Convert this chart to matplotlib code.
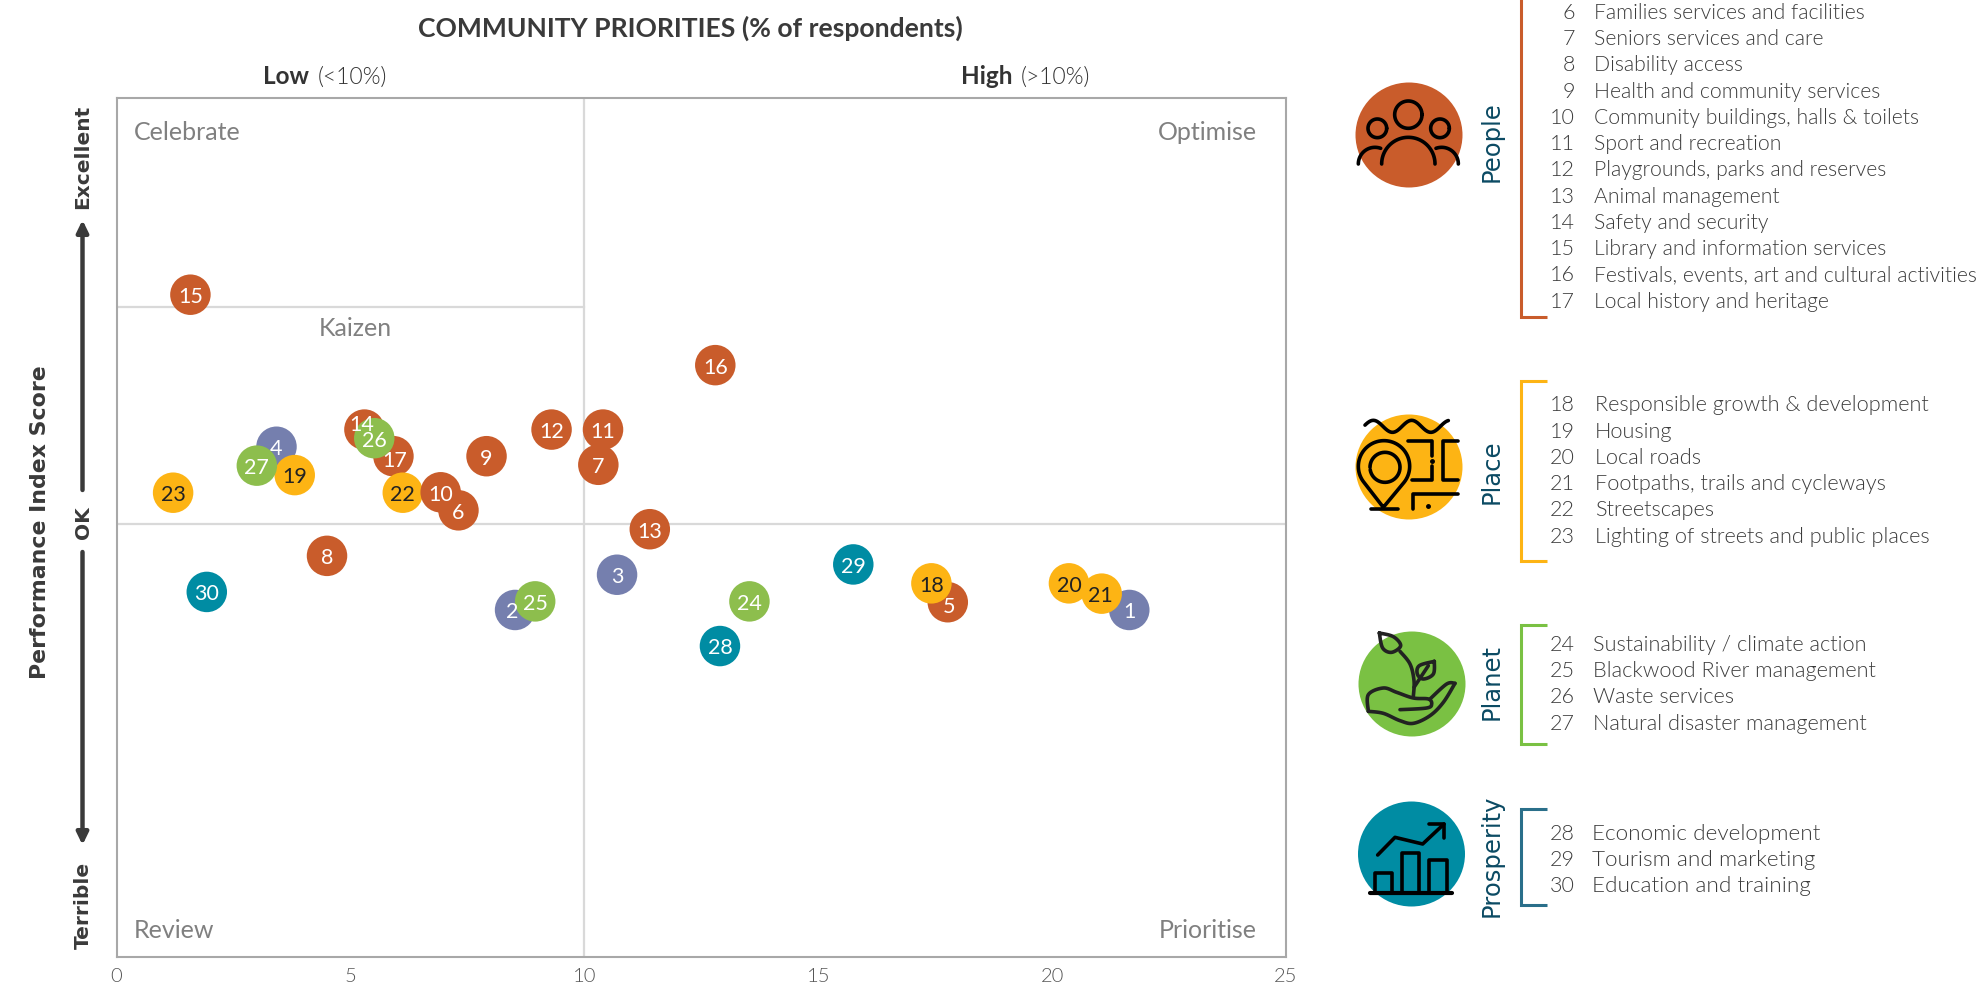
"""
plot.py

Community priorities vs performance index scatter, with the theme legend
and icons down the right hand side.
"""
import numpy as np
import matplotlib
matplotlib.use("Agg")
import matplotlib.pyplot as plt
from matplotlib.patches import Ellipse

W, H = 1979, 987
FONT = "Lato"
LIGHT = 300  # numeric, "light" resolves to the hairline cut of Lato

# measure number, priority (% of respondents), performance index (0-100 axis)
ids = [1, 2, 3, 4, 5, 6, 7, 8, 9, 10,
       11, 12, 13, 14, 15, 16, 17, 18, 19, 20,
       21, 22, 23, 24, 25, 26, 27, 28, 29, 30]
priority = [21.65, 8.52, 10.7, 3.42, 17.77, 7.31, 10.3, 4.5, 7.91, 6.93,
            10.4, 9.3, 11.4, 5.3, 1.58, 12.8, 5.92, 17.42, 3.81, 20.36,
            21.06, 6.12, 1.21, 13.53, 8.95, 5.51, 3.0, 12.9, 15.75, 1.93]
performance = [40.4, 40.4, 44.5, 59.4, 41.3, 52.0, 57.3, 46.7, 58.3, 54.1,
               61.4, 61.4, 49.8, 61.4, 77.1, 68.9, 58.3, 43.5, 56.1, 43.5,
               42.3, 54.05, 54.05, 41.4, 41.4, 60.4, 57.2, 36.2, 45.7, 42.5]
# drawn back to front, the overlaps in the cluster are not in number order
draw_order = [1, 2, 3, 4, 5, 8, 9, 11, 7, 12, 13, 15, 16, 14, 17, 18, 19, 20,
              21, 22, 23, 10, 6, 24, 25, 26, 27, 28, 29, 30]

x_ticks = [0, 5, 10, 15, 20, 25]
ok_line = 50.4
kaizen_line = 75.7
priority_split = 10

people_items = ["Families services and facilities", "Seniors services and care",
                "Disability access", "Health and community services",
                "Community buildings, halls & toilets", "Sport and recreation",
                "Playgrounds, parks and reserves", "Animal management",
                "Safety and security", "Library and information services",
                "Festivals, events, art and cultural activities",
                "Local history and heritage"]
place_items = ["Responsible growth & development", "Housing", "Local roads",
               "Footpaths, trails and cycleways", "Streetscapes",
               "Lighting of streets and public places"]
planet_items = ["Sustainability / climate action", "Blackwood River management",
                "Waste services", "Natural disaster management"]
prosperity_items = ["Economic development", "Tourism and marketing",
                    "Education and training"]

BLUE = "#757FAE"
PEOPLE = "#C95C2B"
PLACE = "#FDB414"
PLANET = "#8DBE4D"
PROSPERITY = "#008CA3"
NAVY = "#0B4A63"


def point_colour(n):
    if n <= 4:
        return BLUE
    if n <= 17:
        return PEOPLE
    if n <= 23:
        return PLACE
    if n <= 27:
        return PLANET
    return PROSPERITY


def smooth(points, steps=12):
    """Catmull-Rom curve through the given points, for the hand drawn icons."""
    p = np.array(points, dtype=float)
    p = np.vstack([p[0], p, p[-1]])
    out = []
    for i in range(1, len(p) - 2):
        for t in np.linspace(0, 1, steps, endpoint=False):
            out.append(0.5 * (2 * p[i] + (p[i + 1] - p[i - 1]) * t
                              + (2 * p[i - 1] - 5 * p[i] + 4 * p[i + 1] - p[i + 2]) * t ** 2
                              + (3 * p[i] - p[i - 1] - 3 * p[i + 1] + p[i + 2]) * t ** 3))
    out.append(p[-2])
    return np.array(out)


fig = plt.figure(figsize=(W / 100, H / 100), dpi=100, facecolor="white")

# main scatter
ax = fig.add_axes([116.5 / W, (H - 958) / H, (1286 - 116.5) / W, (958 - 99) / H])
ax.set_xlim(0, 25)
ax.set_ylim(0, 100)
ax.set_xticks(x_ticks)
ax.set_yticks([])
ax.tick_params(axis="x", length=0, pad=7.5, labelsize=14.5, labelcolor="#555555")
for lab in ax.get_xticklabels():
    lab.set_fontfamily(FONT)
    lab.set_fontweight(LIGHT)
for spine in ax.spines.values():
    spine.set_color("#a8a8a8")
    spine.set_linewidth(1.5)

ax.axvline(priority_split, color="#d9d9d9", lw=1.6, zorder=1)
ax.axhline(ok_line, color="#d9d9d9", lw=1.6, zorder=1)
ax.plot([0, priority_split], [kaizen_line, kaizen_line], color="#d9d9d9", lw=1.6, zorder=1)

xs = [priority[n - 1] for n in draw_order]
ys = [performance[n - 1] for n in draw_order]
ax.scatter(xs, ys, s=850, c=[point_colour(n) for n in draw_order], linewidths=0, zorder=3)

# a few labels sit off centre in the original
label_nudge = {14: (-2, 5), 17: (1, -2), 5: (1, -2), 2: (-2, 0), 21: (-1, 0)}
for n, x, y in zip(ids, priority, performance):
    dx, dy = label_nudge.get(n, (0, 0))
    ax.annotate(str(n), (x, y), xytext=(dx, dy - 1), textcoords="offset points",
                ha="center", va="center", fontsize=15.5, family=FONT, zorder=4,
                color="#222222" if 18 <= n <= 23 else "white")

# everything around the plot is placed in reference pixels
ov = fig.add_axes([0, 0, 1, 1], zorder=5)
ov.set_xlim(0, W)
ov.set_ylim(H, 0)
ov.axis("off")
ov.patch.set_alpha(0)

ov.text(690, 28, "COMMUNITY PRIORITIES (% of respondents)", ha="center", va="center",
        fontsize=19.1, family=FONT, weight="bold", color="#3a3a3a")
ov.text(263, 77, "Low", ha="left", va="center", fontsize=17.5, family=FONT, weight="bold", color="#333333")
ov.text(318, 77, "(<10%)", ha="left", va="center", fontsize=16.5, family=FONT, weight=LIGHT, color="#333333")
ov.text(961, 77, "High", ha="left", va="center", fontsize=17.5, family=FONT, weight="bold", color="#333333")
ov.text(1021, 77, "(>10%)", ha="left", va="center", fontsize=16.5, family=FONT, weight=LIGHT, color="#333333")

for label, px, py, ha in [("Celebrate", 134, 133, "left"), ("Kaizen", 355, 328, "center"),
                          ("Review", 134, 930, "left"), ("Optimise", 1257, 133, "right"),
                          ("Prioritise", 1257, 930, "right")]:
    ov.text(px, py, label, ha=ha, va="center", fontsize=18, family=FONT, color="#808080")

# y axis title and the good/bad scale
AXIS_FONT = "DejaVu Sans"
ov.text(40, 522, "Performance Index Score", rotation=90, ha="center", va="center",
        fontsize=15.8, family=AXIS_FONT, weight="bold", color="#3a3a3a")
for label, py in [("Excellent", 157), ("OK", 523), ("Terrible", 905)]:
    ov.text(83, py, label, rotation=90, ha="center", va="center",
            fontsize=14.5, family=AXIS_FONT, weight="bold", color="#3a3a3a")
ov.annotate("", xy=(82.5, 221), xytext=(82.5, 491),
            arrowprops=dict(arrowstyle="-|>,head_width=0.34,head_length=0.7", lw=3.2, color="#3a3a3a",
                            shrinkA=0, shrinkB=0))
ov.annotate("", xy=(82.5, 846), xytext=(82.5, 553),
            arrowprops=dict(arrowstyle="-|>,head_width=0.34,head_length=0.7", lw=3.2, color="#3a3a3a",
                            shrinkA=0, shrinkB=0))

# legend groups: rows, first number, first row y, row pitch, text x, font size, bracket span
groups = [
    ("People", people_items, 6, 12.7, 26.27, 1594, 15.2, (-5, 318), PEOPLE, 142),
    ("Place", place_items, 18, 405.3, 26.3, 1595, 15.7, (381.5, 562), PLACE, 472),
    ("Planet", planet_items, 24, 645, 26.2, 1593, 15.7, (625.5, 745), "#7AC143", 682),
    ("Prosperity", prosperity_items, 28, 833.7, 26.2, 1592.5, 16.2, (810, 905.5), "#2A6F8A", 856),
]
for name, items, first, y0, pitch, text_x, size, span, colour, label_y in groups:
    for i, item in enumerate(items):
        y = y0 + i * pitch
        ov.text(1575, y, str(first + i), ha="right", va="center", fontsize=15.5,
                family=FONT, weight=LIGHT, color="#3c3c3c")
        ov.text(text_x, y, item, ha="left", va="center", fontsize=size,
                family=FONT, weight=LIGHT, color="#3c3c3c")
    ov.plot([1547, 1520.5, 1520.5, 1547], [span[0], span[0], span[1], span[1]],
            color=colour, lw=2.2, solid_joinstyle="miter", solid_capstyle="butt")
    ov.text(1491.5, label_y, name, rotation=90, ha="center", va="center", fontsize=17.5,
            family=AXIS_FONT, color=NAVY)


def icon_line(origin, pts, colour="black", lw=2.6):
    arr = np.asarray(pts, dtype=float)
    ov.plot(origin[0] + arr[:, 0] / 3, origin[1] + arr[:, 1] / 3, color=colour, lw=lw,
            solid_capstyle="round", solid_joinstyle="round")


def arc(cx, cy, r, a0, a1):
    t = np.radians(np.linspace(a0, a1, 60))
    return np.column_stack([cx + r * np.cos(t), cy - r * np.sin(t)])


ov.add_patch(Ellipse((1409, 136), 107, 105, color=PEOPLE, lw=0))
ov.add_patch(Ellipse((1409, 468), 107, 105, color=PLACE, lw=0))
ov.add_patch(Ellipse((1412, 685), 107, 105, color="#7AC143", lw=0))
ov.add_patch(Ellipse((1411.5, 855), 107, 105, color=PROSPERITY, lw=0))

# people icon
o = (1340, 75)
icon_line(o, arc(205, 122, 41, 0, 360))
icon_line(o, arc(112, 163, 28, 0, 360))
icon_line(o, arc(300, 163, 28, 0, 360))
icon_line(o, arc(205, 270, 80, 0, 180))
icon_line(o, arc(105, 270, 50, 70, 180))
icon_line(o, arc(305, 270, 50, 0, 110))

# place icon
o = (1340, 405)
wave_x = np.linspace(75, 325, 60)
icon_line(o, np.column_stack([wave_x, 67 - 18 * np.cos(2 * np.pi * (wave_x - 100) / 115)]))
pin = arc(132, 187, 77, -39, 219)
icon_line(o, np.vstack([[130, 310], pin, [130, 310]]))
icon_line(o, [[92, 315], [175, 315]])
icon_line(o, arc(135, 190, 45, 100, 180 + 360)[::-1][:48])
icon_line(o, [[205, 110], [275, 110], [275, 155]])
icon_line(o, [[275, 185], [275, 228], [215, 228]])
icon_line(o, [[355, 110], [310, 110], [310, 228], [355, 228]])
icon_line(o, [[355, 270], [218, 270], [218, 315]])
ov.plot([o[0] + 275 / 3, o[0] + 263 / 3], [o[1] + 170 / 3, o[1] + 305 / 3], "o", color="black", ms=2.5)

# planet icon
o = (1340, 625)
dark = "#222222"
icon_line(o, smooth([(118, 27), (160, 38), (182, 65), (155, 85), (128, 72), (118, 27)]), dark)
icon_line(o, smooth([(180, 82), (210, 120), (222, 170), (220, 218)]), dark)
icon_line(o, smooth([(283, 112), (280, 150), (250, 165), (232, 150), (238, 125), (283, 112)]), dark)
icon_line(o, [(222, 190), (265, 125)], dark)
icon_line(o, smooth([(85, 262), (85, 212), (130, 192), (170, 205), (220, 222), (265, 225),
                     (275, 240), (260, 252), (180, 257)]), dark)
icon_line(o, smooth([(85, 262), (130, 268), (180, 290), (220, 298), (270, 275), (310, 235),
                     (345, 178)]), dark)
icon_line(o, smooth([(345, 178), (320, 180), (270, 225)]), dark)

# prosperity icon
o = (1340, 795)
icon_line(o, [(90, 298), (335, 298)], lw=3)
icon_line(o, [(104, 298), (104, 238), (157, 238), (157, 298)])
icon_line(o, [(187, 298), (187, 177), (237, 177), (237, 298)])
icon_line(o, [(268, 298), (268, 197), (322, 197), (322, 298)])
icon_line(o, [(113, 183), (165, 130), (248, 150), (312, 90)])
icon_line(o, [(267, 90), (312, 90), (312, 132)])

fig.savefig("out.png", dpi=100)
